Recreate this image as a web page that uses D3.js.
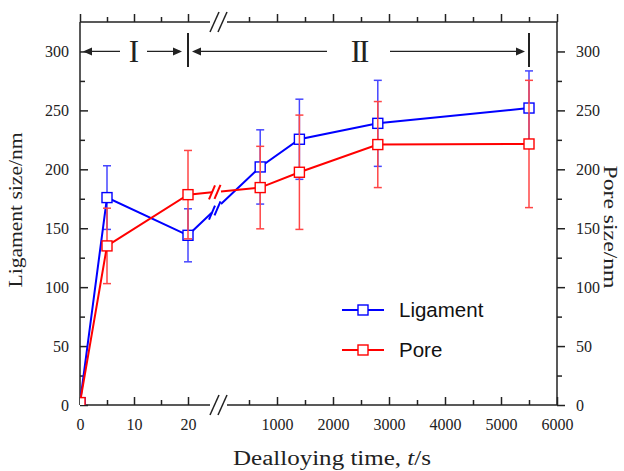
<!DOCTYPE html>
<html>
<head>
<meta charset="utf-8">
<script src="https://cdn.jsdelivr.net/npm/d3@7"></script>
<style>
  html,body{margin:0;padding:0;background:#fff;}
  svg{display:block;}
</style>
</head>
<body>
<div id="chart"></div>
<script>
// data
const times       = [0, 5, 20, 700, 1400, 2800, 5500];
const ligament    = [2, 176, 144, 202, 225.5, 239, 252];
const ligamentErr = [0, 27, 22.5, 31.5, 34, 36.5, 31.5];
const pore        = [2, 135, 178.5, 184.5, 197.5, 221, 221.5];
const poreErr     = [0, 32, 37.5, 35, 48.5, 36.5, 54];

const leftTicks   = [0, 10, 20];
const leftMinor   = [5, 15];
const rightTicks  = [1000, 2000, 3000, 4000, 5000, 6000];
const rightMinor  = [500, 1500, 2500, 3500, 4500, 5500];
const yTicks      = [0, 50, 100, 150, 200, 250, 300];
const yMinor      = [25, 75, 125, 175, 225, 275];

const W=624,H=471;
const L=80,R=557,T=22,B=405;
const BRK0=210,BRK1=227;   // axis break gap

const svg=d3.select('#chart').append('svg').attr('width',W).attr('height',H);

// broken x: two linear pieces
const xl=d3.scaleLinear().domain([0,24]).range([L,L+24*5.4]);
const xr=d3.scaleLinear().domain([0,6000]).range([221,R]);
const x=t=>t<=24?xl(t):xr(t);
const y=d3.scaleLinear().domain([0,325]).range([B,T]);

const serif='"Liberation Serif","Times New Roman",serif';
const fmt=d3.format('d');

function styleTicks(g){
  g.select('.domain').remove();
  g.selectAll('line').attr('stroke','#222').attr('stroke-width',1.5);
  g.selectAll('text').attr('fill','#222').style('font-family',serif).style('font-size','16px');
}

// ---- axes ----
function xAxes(gen,ty,labels){
  const g=svg.append('g').attr('transform',`translate(0,${ty})`);
  const s=gen===d3.axisBottom?-1:1;
  const a1=gen(xl).tickValues(leftTicks).tickSize(s*8).tickPadding(14).tickFormat(fmt);
  const a2=gen(xr).tickValues(rightTicks).tickSize(s*8).tickPadding(14).tickFormat(fmt);
  const m1=gen(xl).tickValues(leftMinor).tickSize(s*5).tickFormat('');
  const m2=gen(xr).tickValues(rightMinor).tickSize(s*5).tickFormat('');
  if(!labels){a1.tickFormat('');a2.tickFormat('');}
  [a1,a2,m1,m2].forEach(a=>g.append('g').call(a).call(styleTicks));
  // axis line with break
  g.append('line').attr('x1',L).attr('x2',BRK0).attr('stroke','#222').attr('stroke-width',1.5);
  g.append('line').attr('x1',BRK1).attr('x2',R).attr('stroke','#222').attr('stroke-width',1.5);
  [BRK0,BRK0+8].forEach(bx=>{
    g.append('line').attr('x1',bx).attr('y1',10).attr('x2',bx+9).attr('y2',-10)
      .attr('stroke','#222').attr('stroke-width',1.5);
  });
}
xAxes(d3.axisBottom,B,true);
xAxes(d3.axisTop,T,false);

function yAxis(gen,tx){
  const g=svg.append('g').attr('transform',`translate(${tx},0)`);
  const s=gen===d3.axisLeft?-1:1;
  g.append('g').call(gen(y).tickValues(yTicks).tickSize(s*8).tickPadding(11)).call(styleTicks);
  g.append('g').call(gen(y).tickValues(yMinor).tickSize(s*5).tickFormat('')).call(styleTicks);
  g.append('line').attr('y1',T).attr('y2',B).attr('stroke','#222').attr('stroke-width',1.5);
}
yAxis(d3.axisLeft,L);
yAxis(d3.axisRight,R);

// axis titles
svg.append('text').attr('transform','translate(22,210) rotate(-90)')
  .attr('text-anchor','middle').attr('font-family',serif).attr('font-size',19).attr('fill','#222')
  .attr('textLength',155).attr('lengthAdjust','spacingAndGlyphs')
  .text('Ligament size/nm');
svg.append('text').attr('transform','translate(604,227) rotate(90)')
  .attr('text-anchor','middle').attr('font-family',serif).attr('font-size',19).attr('fill','#222')
  .attr('textLength',123).attr('lengthAdjust','spacingAndGlyphs')
  .text('Pore size/nm');
const xt=svg.append('text').attr('x',332).attr('y',465).attr('text-anchor','middle')
  .attr('font-family',serif).attr('font-size',20).attr('fill','#222')
  .attr('textLength',198).attr('lengthAdjust','spacingAndGlyphs');
xt.append('tspan').text('Dealloying time, ');
xt.append('tspan').attr('font-style','italic').text('t');
xt.append('tspan').text('/s');

// ---- stage annotations ----
const ann=svg.append('g').attr('stroke','#222').attr('fill','#222');
const ya=y(300);
function arrowHead(tx,dir){
  ann.append('path').attr('stroke','none')
    .attr('d',`M${tx},${ya}L${tx-dir*9},${ya-4}L${tx-dir*9},${ya+4}Z`);
}
function hline(a,b){ann.append('line').attr('x1',a).attr('x2',b).attr('y1',ya).attr('y2',ya).attr('stroke-width',1.2);}
hline(x(0)+6,120); hline(147,x(20)-8);
arrowHead(x(0)+3,-1); arrowHead(x(20)-6,1);
hline(x(20)+8,327); hline(390,x(5500)-8);
arrowHead(x(20)+4,-1); arrowHead(x(5500)-4,1);
[x(20),x(5500)].forEach(bx=>ann.append('line').attr('x1',bx).attr('x2',bx)
  .attr('y1',33).attr('y2',67).attr('stroke-width',2));
ann.append('text').attr('stroke','none').attr('x',134).attr('y',ya+10.5).attr('text-anchor','middle')
  .attr('font-family',serif).attr('font-size',31).text('I');
ann.append('text').attr('stroke','none').attr('x',359).attr('y',ya+10.5).attr('text-anchor','middle')
  .attr('font-family',serif).attr('font-size',31).attr('letter-spacing',-2).text('II');

// ---- data ----
svg.append('clipPath').attr('id','plotclip').append('rect')
  .attr('x',L).attr('y',T).attr('width',R-L).attr('height',B-T);
const plot=svg.append('g').attr('clip-path','url(#plotclip)');

function series(vals,errs,col,errCol){
  const g=plot.append('g');
  const pts=times.map((t,i)=>({x:x(t),y:y(vals[i]),v:vals[i],e:errs[i]}));
  // error bars
  const eb=g.selectAll('g.eb').data(pts.filter(d=>d.e>0)).enter().append('g')
    .attr('stroke',errCol).attr('stroke-width',1.5);
  eb.append('line').attr('x1',d=>d.x).attr('x2',d=>d.x)
    .attr('y1',d=>y(d.v-d.e)).attr('y2',d=>y(d.v+d.e));
  eb.append('line').attr('x1',d=>d.x-4).attr('x2',d=>d.x+4).attr('y1',d=>y(d.v-d.e)).attr('y2',d=>y(d.v-d.e));
  eb.append('line').attr('x1',d=>d.x-4).attr('x2',d=>d.x+4).attr('y1',d=>y(d.v+d.e)).attr('y2',d=>y(d.v+d.e));
  // line with break between 20 s and the long-time points
  const p=pts[2],q=pts[3];
  const at=px=>({x:px,y:p.y+(q.y-p.y)*(px-p.x)/(q.x-p.x)});
  const c0=at(212),c1=at(221);
  const ln=d3.line().x(d=>d.x).y(d=>d.y);
  g.append('path').attr('d',ln(pts.slice(0,3).concat([c0]))).attr('fill','none')
    .attr('stroke',col).attr('stroke-width',2);
  g.append('path').attr('d',ln([c1].concat(pts.slice(3)))).attr('fill','none')
    .attr('stroke',col).attr('stroke-width',2);
  [c0,{x:(c0.x+c1.x)/2+1,y:(c0.y+c1.y)/2}].forEach(c=>g.append('line')
    .attr('x1',c.x-3).attr('y1',c.y+7).attr('x2',c.x+3).attr('y2',c.y-7)
    .attr('stroke',col).attr('stroke-width',2));
  // markers
  g.selectAll('rect').data(pts).enter().append('rect')
    .attr('x',d=>d.x-5).attr('y',d=>d.y-5).attr('width',10).attr('height',10)
    .attr('fill','#fff').attr('stroke',col).attr('stroke-width',1.4);
}
series(ligament,ligamentErr,'#0000ff','#4646ff');
series(pore,poreErr,'#ff0000','#ff4646');

// ---- legend ----
const leg=svg.append('g');
[['Ligament','#0000ff',310],['Pore','#ff0000',350]].forEach(([name,col,ly])=>{
  leg.append('line').attr('x1',342).attr('x2',384).attr('y1',ly).attr('y2',ly)
    .attr('stroke',col).attr('stroke-width',2);
  leg.append('rect').attr('x',358).attr('y',ly-5).attr('width',10).attr('height',10)
    .attr('fill','#fff').attr('stroke',col).attr('stroke-width',1.4);
  leg.append('text').attr('x',399).attr('y',ly+7).attr('font-family','"Liberation Sans",Arial,sans-serif')
    .attr('font-size',20.5).attr('fill','#111').text(name);
});
</script>
</body>
</html>
